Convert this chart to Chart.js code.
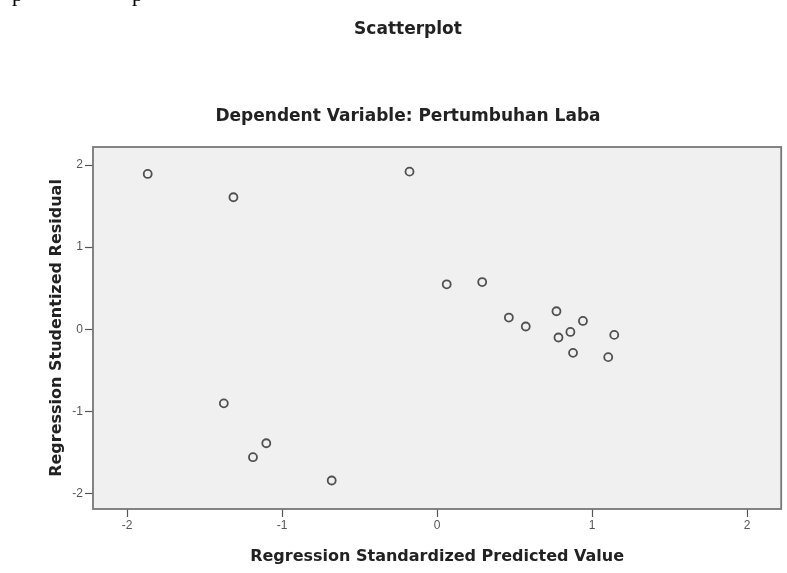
<!DOCTYPE html>
<html>
<head>
<meta charset="utf-8">
<script src="https://cdn.jsdelivr.net/npm/chart.js@4/dist/chart.umd.min.js"></script>
<style>
html,body{margin:0;padding:0;background:#fff;}
#wrap{position:relative;width:787px;height:573px;}
</style>
</head>
<body>
<div id="wrap"><canvas id="c" width="787" height="573"></canvas></div>
<script>
const chartTitle = "Scatterplot";
const chartSubtitle = "Dependent Variable: Pertumbuhan Laba";
const xAxisTitle = "Regression Standardized Predicted Value";
const yAxisTitle = "Regression Studentized Residual";
const xTicks = [-2, -1, 0, 1, 2];
const yTicks = [-2, -1, 0, 1, 2];
const predicted = [-1.867, -1.314, -0.178, 0.062, 0.291, 0.463, 0.572, 0.770, 0.941, 0.860, 0.783, 1.143, 0.877, 1.104, -1.376, -1.102, -1.188, -0.680];
const residual  = [1.892, 1.608, 1.920, 0.547, 0.575, 0.142, 0.033, 0.219, 0.101, -0.033, -0.101, -0.069, -0.288, -0.340, -0.903, -1.389, -1.559, -1.843];

const points = predicted.map((x, i) => ({x: x, y: residual[i]}));
const TITLE_FONT = '"DejaVu Sans", Arial, sans-serif';

const framePlugin = {
  id: 'frame',
  beforeDatasetsDraw(chart) {
    const {ctx, chartArea: a} = chart;
    ctx.save();
    ctx.fillStyle = '#f0f0f0';
    ctx.fillRect(a.left, a.top, a.right - a.left, a.bottom - a.top);
    ctx.restore();
  },
  afterDraw(chart) {
    const {ctx, chartArea: a} = chart;
    ctx.save();
    ctx.strokeStyle = '#777777';
    ctx.lineWidth = 1.8;
    ctx.strokeRect(a.left, a.top, a.right - a.left, a.bottom - a.top);
    // chart titles
    const cx = 408;
    ctx.fillStyle = '#222';
    ctx.textAlign = 'center';
    ctx.textBaseline = 'middle';
    ctx.font = 'bold 17px ' + TITLE_FONT;
    ctx.fillText(chartTitle, cx, 30);
    ctx.fillText(chartSubtitle, cx, 117);
    // clipped serif fragments at top left of the page
    ctx.fillStyle = '#000';
    ctx.textAlign = 'left';
    ctx.textBaseline = 'alphabetic';
    ctx.font = '22px "Liberation Serif", "Times New Roman", serif';
    ctx.fillText('p', 12, 1);
    ctx.fillText('p', 132, 1);
    ctx.restore();
  }
};

new Chart(document.getElementById('c'), {
  type: 'scatter',
  data: {
    datasets: [{
      data: points,
      pointStyle: 'circle',
      pointRadius: 4,
      pointHoverRadius: 4,
      pointBorderWidth: 1.8,
      pointBorderColor: '#505050',
      pointBackgroundColor: 'rgba(0,0,0,0)'
    }]
  },
  options: {
    responsive: false,
    animation: false,
    layout: { padding: { top: 147, right: 3, left: 0, bottom: 0 } },
    plugins: {
      legend: { display: false },
      tooltip: { enabled: false },
      title: { display: false }
    },
    scales: {
      x: {
        type: 'linear',
        min: -2.22, max: 2.22,
        afterBuildTicks: s => { s.ticks = xTicks.map(v => ({value: v})); },
        afterFit: s => { s.height = 64; },
        grid: { drawOnChartArea: false, drawTicks: true, tickLength: 8, tickColor: '#555', tickWidth: 1.2 },
        border: { display: false },
        ticks: { padding: 1, font: { size: 12, family: '"Liberation Sans", Arial, sans-serif' }, color: '#555', maxRotation: 0 },
        title: {
          display: true, text: xAxisTitle, color: '#222',
          font: { size: 16, weight: 'bold', family: TITLE_FONT },
          padding: { top: 0, bottom: 7 }
        }
      },
      y: {
        type: 'linear',
        min: -2.19, max: 2.22,
        afterBuildTicks: s => { s.ticks = yTicks.map(v => ({value: v})); },
        afterFit: s => { s.width = 93; },
        grid: { drawOnChartArea: false, drawTicks: true, tickLength: 8, tickColor: '#555', tickWidth: 1.2 },
        border: { display: false },
        ticks: { padding: 2, font: { size: 12, family: '"Liberation Sans", Arial, sans-serif' }, color: '#555' },
        title: {
          display: true, text: yAxisTitle, color: '#222',
          font: { size: 16, weight: 'bold', family: TITLE_FONT },
          padding: { top: 47, bottom: 0 }
        }
      }
    }
  },
  plugins: [framePlugin]
});
</script>
</body>
</html>
